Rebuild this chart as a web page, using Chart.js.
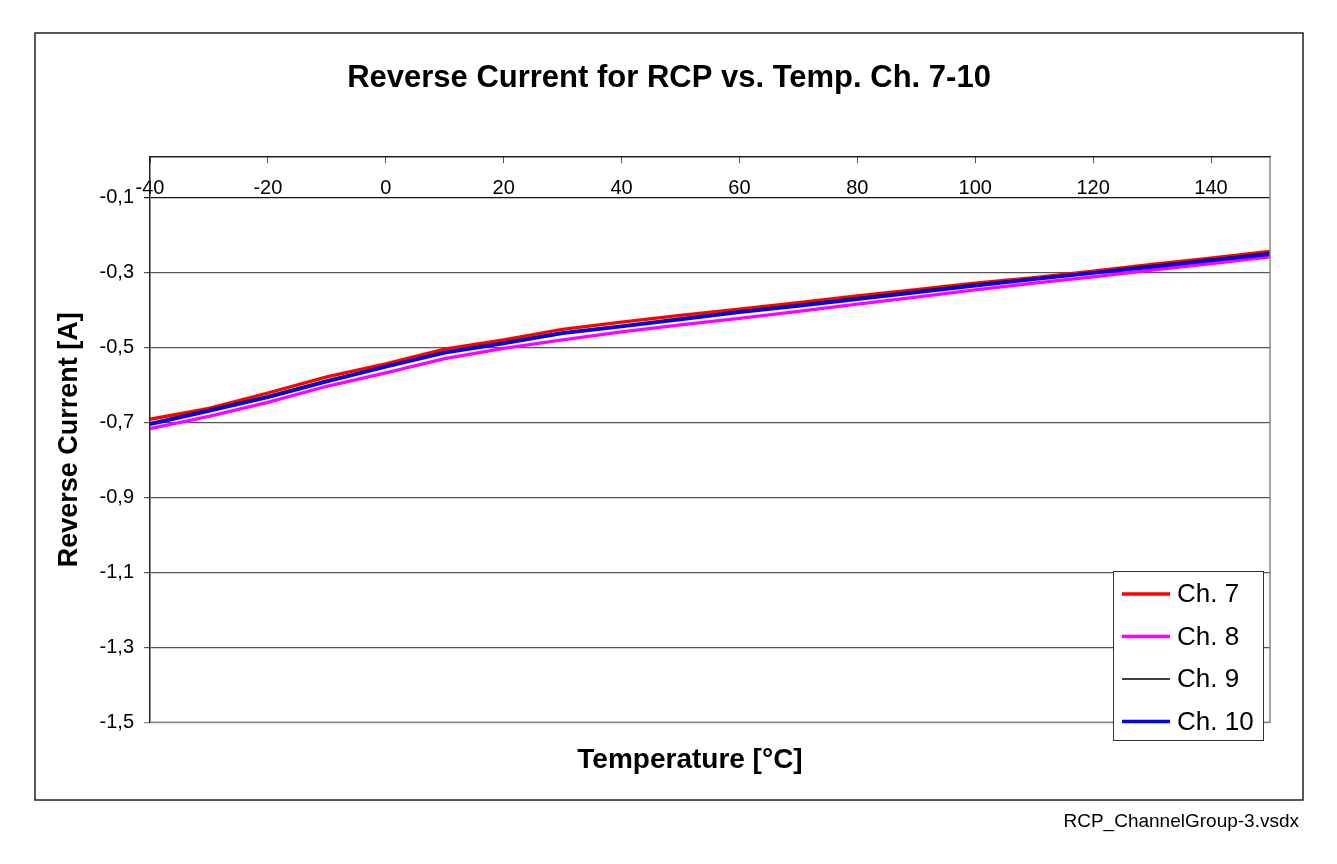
<!DOCTYPE html>
<html>
<head>
<meta charset="utf-8">
<title>Reverse Current for RCP vs. Temp. Ch. 7-10</title>
<script src="https://cdn.jsdelivr.net/npm/chart.js@4.4.1/dist/chart.umd.min.js"></script>
<style>
    html, body { margin: 0; padding: 0; background: #fff; }
    #wrap { width: 1337px; height: 864px; }
</style>
</head>
<body>
<div id="wrap"><canvas id="mainChart" width="1337" height="864"></canvas></div>
<script>
// Date
const temps = [-40, -30, -20, -10, 0, 10, 20, 30, 40, 50, 60, 70, 80, 90, 100, 110, 120, 130, 140, 150];
const ch7  = [-0.692, -0.663, -0.622, -0.579, -0.544, -0.505, -0.480, -0.452, -0.433, -0.415, -0.398, -0.381, -0.363, -0.346, -0.329, -0.314, -0.297, -0.279, -0.262, -0.244];
const ch8  = [-0.717, -0.684, -0.647, -0.604, -0.568, -0.530, -0.503, -0.480, -0.459, -0.440, -0.423, -0.404, -0.385, -0.366, -0.347, -0.329, -0.312, -0.294, -0.277, -0.259];
const ch9  = [-0.701, -0.666, -0.629, -0.587, -0.549, -0.511, -0.486, -0.459, -0.441, -0.422, -0.403, -0.386, -0.368, -0.350, -0.332, -0.316, -0.299, -0.282, -0.265, -0.248];
const ch10 = [-0.706, -0.670, -0.634, -0.592, -0.552, -0.515, -0.490, -0.463, -0.445, -0.426, -0.407, -0.390, -0.372, -0.354, -0.336, -0.319, -0.302, -0.286, -0.269, -0.252];

const xTicks = [-40, -20, 0, 20, 40, 60, 80, 100, 120, 140];
const yTicks = [-1.5, -1.3, -1.1, -0.9, -0.7, -0.5, -0.3, -0.1];

const chartTitle = 'Reverse Current for RCP vs. Temp. Ch. 7-10';
const xTitle = 'Temperature [°C]';
const yTitle = 'Reverse Current [A]';
const footerText = 'RCP_ChannelGroup-3.vsdx';

const FONT = 'Arial, "Liberation Sans", sans-serif';
Chart.defaults.font.family = FONT;
Chart.defaults.color = '#000';

function series(values) {
    return temps.map((t, i) => ({ x: t, y: values[i] }));
}

// Cadru, legenda si nota de subsol
const framePlugin = {
    id: 'frame',
    afterLayout(chart) {
        // titlul axei X e putin spre stanga fata de centrul plotului
        const s = chart.scales.xb;
        if (s) s.left -= 40;
    },
    afterDraw(chart) {
        const ctx = chart.ctx;
        const area = chart.chartArea;
        ctx.save();

        // marginea dreapta / jos a zonei de plot
        ctx.strokeStyle = '#888';
        ctx.lineWidth = 1.5;
        ctx.beginPath();
        ctx.moveTo(area.right, area.top);
        ctx.lineTo(area.right, area.bottom);
        ctx.lineTo(area.left, area.bottom);
        ctx.stroke();

        // chenarul exterior
        ctx.strokeStyle = '#222';
        ctx.lineWidth = 1.5;
        ctx.strokeRect(35, 33, 1268, 767);

        // nota de subsol
        ctx.fillStyle = '#000';
        ctx.font = '19px ' + FONT;
        ctx.textAlign = 'right';
        ctx.textBaseline = 'alphabetic';
        ctx.fillText(footerText, 1299, 827);

        // legenda
        ctx.fillStyle = '#fff';
        ctx.fillRect(1113.5, 571.5, 150, 169);
        ctx.strokeStyle = '#333';
        ctx.lineWidth = 1;
        ctx.strokeRect(1113.5, 571.5, 150, 169);
        ctx.font = '26px ' + FONT;
        ctx.textAlign = 'left';
        ctx.textBaseline = 'middle';
        chart.data.datasets.forEach((ds, i) => {
            const y = 594 + i * 42.5;
            ctx.strokeStyle = ds.borderColor;
            ctx.lineWidth = ds.borderWidth;
            ctx.beginPath();
            ctx.moveTo(1122, y);
            ctx.lineTo(1170, y);
            ctx.stroke();
            ctx.fillStyle = '#000';
            ctx.fillText(ds.label, 1177, y + 1);
        });
        ctx.restore();
    }
};

const ctx = document.getElementById('mainChart').getContext('2d');
const chart = new Chart(ctx, {
    type: 'line',
    data: {
        datasets: [
            { label: 'Ch. 7',  data: series(ch7),  borderColor: '#ff0000', borderWidth: 3.3, order: 3 },
            { label: 'Ch. 8',  data: series(ch8),  borderColor: '#ff00ff', borderWidth: 3.3, order: 2 },
            { label: 'Ch. 9',  data: series(ch9),  borderColor: '#000000', borderWidth: 1.4, order: 1 },
            { label: 'Ch. 10', data: series(ch10), borderColor: '#0000ff', borderWidth: 3.3, order: 0 }
        ]
    },
    options: {
        responsive: false,
        animation: false,
        devicePixelRatio: 1,
        elements: {
            point: { radius: 0 },
            line: { tension: 0, fill: false }
        },
        layout: { padding: { left: 35, right: 34, top: 33, bottom: 64 } },
        plugins: {
            legend: { display: false },
            tooltip: { enabled: false },
            title: {
                display: true,
                text: chartTitle,
                color: '#000',
                font: { size: 31, weight: 'bold' },
                padding: { top: 27, bottom: 60 }
            }
        },
        scales: {
            x: {
                type: 'linear',
                position: 'top',
                min: -40,
                max: 150,
                afterBuildTicks: (s) => { s.ticks = xTicks.map(v => ({ value: v })); },
                afterFit: (s) => { s.height = 0; },
                grid: { drawOnChartArea: false, tickLength: -6, color: '#555' },
                border: { color: '#222', width: 1.5 },
                ticks: { font: { size: 20 }, color: '#000', mirror: true, padding: 19, maxRotation: 0, autoSkip: false }
            },
            xb: {
                type: 'linear',
                position: 'bottom',
                min: -40,
                max: 150,
                grid: { display: false, drawTicks: false },
                border: { display: false },
                ticks: { display: false },
                title: {
                    display: true,
                    text: xTitle,
                    color: '#000',
                    font: { size: 28, weight: 'bold' },
                    padding: { top: 21, bottom: 23.2 }
                }
            },
            y: {
                type: 'linear',
                position: 'left',
                min: -1.5,
                max: 0.007,
                afterBuildTicks: (s) => { s.ticks = yTicks.map(v => ({ value: v })); },
                afterFit: (s) => { s.width = 115; },
                grid: {
                    tickLength: 6,
                    lineWidth: 1.2,
                    color: (c) => {
                        const v = c.tick ? c.tick.value : 0;
                        if (Math.abs(v + 0.1) < 1e-6) return '#111';
                        if (Math.abs(v + 1.5) < 1e-6) return '#888';
                        return '#555';
                    }
                },
                border: { color: '#222', width: 1.5 },
                ticks: {
                    font: { size: 20 },
                    color: '#000',
                    padding: 10,
                    callback: (v) => v.toFixed(1).replace('.', ',')
                },
                title: {
                    display: true,
                    text: yTitle,
                    color: '#000',
                    font: { size: 27, weight: 'bold' },
                    padding: { top: 18.8, bottom: 0 }
                }
            },
            yr: {
                type: 'linear',
                position: 'right',
                grid: { display: false, drawTicks: false },
                border: { display: false },
                ticks: { display: false },
                afterFit: (s) => { s.width = 33; }
            }
        }
    },
    plugins: [framePlugin]
});
</script>
</body>
</html>
